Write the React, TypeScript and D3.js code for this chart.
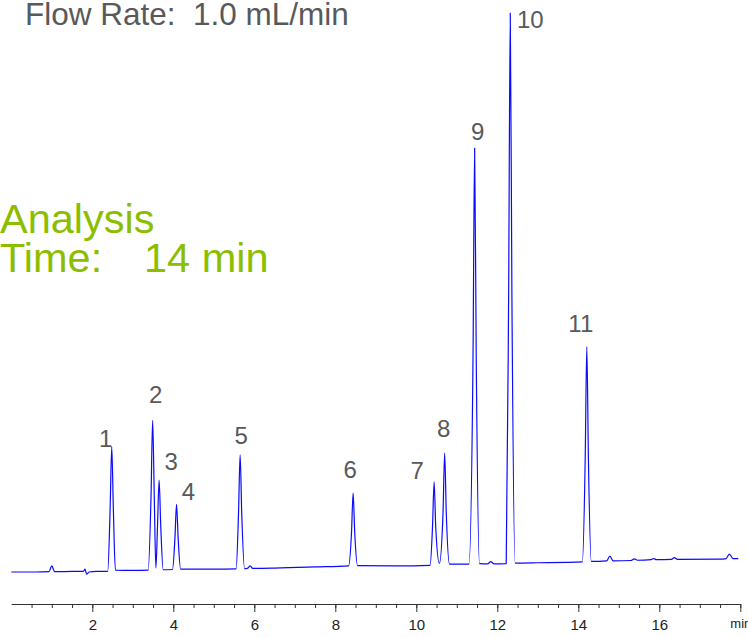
import { useEffect, useRef } from 'react'
import * as d3 from 'd3'

// chromatogram trace: [time (min), signal]
const trace: [number, number][] = [
  [0.0, 0.0], [0.6, 0.0], [0.93, 0.05], [1.0, 1.1], [1.07, 0.05], [1.5, 0.1],
  [1.78, 0.1], [1.82, 0.5], [1.86, -0.4], [1.92, 0.0], [2.1, 0.1], [2.38, 0.1],
  [2.44, 11.2], [2.48, 22.4], [2.52, 11.2], [2.57, 0.35], [3.0, 0.3], [3.38, 0.35],
  [3.45, 13.5], [3.49, 27.1], [3.53, 13.5], [3.57, 0.7],
  [3.61, 8.2], [3.65, 16.4], [3.69, 8.2], [3.75, 0.4], [3.98, 0.45],
  [4.04, 6.0], [4.08, 12.1], [4.12, 6.0], [4.18, 0.5], [5.0, 0.5], [5.55, 0.55],
  [5.61, 10.4], [5.65, 20.9], [5.69, 10.4], [5.76, 0.6], [5.84, 0.7], [5.9, 1.1],
  [5.96, 0.65], [6.5, 0.7], [7.5, 0.9], [8.33, 1.1],
  [8.4, 7.0], [8.44, 14.1], [8.48, 7.0], [8.55, 1.15], [9.5, 1.1], [10.34, 1.2],
  [10.4, 8.0], [10.44, 16.1], [10.48, 8.0], [10.57, 1.55],
  [10.66, 10.6], [10.7, 21.25], [10.74, 10.6], [10.82, 1.4], [11.3, 1.4],
  [11.4, 38.0], [11.44, 75.7], [11.48, 38.0], [11.56, 1.5], [11.76, 1.45],
  [11.84, 1.85], [11.92, 1.45], [12.22, 1.5],
  [12.28, 50.0], [12.32, 99.8], [12.36, 50.0], [12.44, 1.6], [13.0, 1.65], [14.1, 1.8],
  [14.17, 20.0], [14.21, 40.2], [14.25, 20.0], [14.32, 1.9], [14.7, 2.0],
  [14.78, 2.85], [14.86, 2.0], [15.3, 2.05], [15.38, 2.35], [15.46, 2.1],
  [15.8, 2.2], [15.86, 2.4], [15.93, 2.2], [16.3, 2.25], [16.37, 2.55], [16.45, 2.25],
  [17.5, 2.3], [17.65, 2.4], [17.73, 3.2], [17.82, 2.4], [17.95, 2.4]
]

const peakLabels = ['1', '2', '3', '4', '5', '6', '7', '8', '9', '10', '11']
const peakTimes = [2.48, 3.49, 3.65, 4.08, 5.65, 8.44, 10.44, 10.7, 11.44, 12.32, 14.21]
const peakHeights = [22.4, 27.1, 16.4, 12.1, 20.9, 14.1, 16.1, 21.25, 75.7, 99.8, 40.2]

// label offsets from each apex, in pixels (layout only)
const labelOffsets: [number, number][] = [
  [-6, 0], [3, -17], [12, -10], [12, -4], [1, -11], [-3, -15],
  [-17, -3], [-1, -16], [3, -8], [20, 15], [-6, -15]
]

const majorTicks = [2, 4, 6, 8, 10, 12, 14, 16, 18]
const minorTicks = d3.range(0.5, 18.01, 0.5)

const FONT = '"Liberation Sans", Arial, sans-serif'

export default function App() {
  const ref = useRef<SVGSVGElement | null>(null)

  useEffect(() => {
    if (!ref.current) return
    const svg = d3.select(ref.current)
    svg.selectAll('*').remove()

    const width = 748
    const height = 637
    const axisY = 604

    const x = d3.scaleLinear().domain([0, 18]).range([11.3, 740.3])
    const y = d3.scaleLinear().domain([0, 100]).range([572, 12])

    // header texts
    svg.append('text')
      .attr('x', 25)
      .attr('y', 25)
      .attr('fill', '#58595b')
      .style('font-family', FONT)
      .style('font-size', '31.5px')
      .style('white-space', 'pre')
      .text('Flow Rate:  1.0 mL/min')

    const green = '#8cbe00'
    svg.append('text')
      .attr('x', 0)
      .attr('y', 233)
      .attr('fill', green)
      .style('font-family', FONT)
      .style('font-size', '41.5px')
      .text('Analysis')
    svg.append('text')
      .attr('x', 0)
      .attr('y', 272)
      .attr('fill', green)
      .style('font-family', FONT)
      .style('font-size', '41.5px')
      .text('Time:')
    svg.append('text')
      .attr('x', 144)
      .attr('y', 272)
      .attr('fill', green)
      .style('font-family', FONT)
      .style('font-size', '41.5px')
      .text('14 min')

    // trace
    const line = d3.line<[number, number]>()
      .x(d => x(d[0]))
      .y(d => y(d[1]))
      .curve(d3.curveMonotoneX)

    svg.append('path')
      .datum(trace)
      .attr('fill', 'none')
      .attr('stroke', '#0a0aff')
      .attr('stroke-width', 1.2)
      .attr('stroke-linejoin', 'round')
      .attr('d', line)

    // peak labels
    svg.selectAll('.peak-label')
      .data(peakLabels)
      .enter()
      .append('text')
      .attr('class', 'peak-label')
      .attr('x', (d, i) => x(peakTimes[i]) + labelOffsets[i][0])
      .attr('y', (d, i) => y(peakHeights[i]) + labelOffsets[i][1])
      .attr('text-anchor', 'middle')
      .attr('fill', '#58595b')
      .style('font-family', FONT)
      .style('font-size', '24px')
      .text(d => d)

    // x axis: minor ticks
    svg.append('g')
      .attr('transform', `translate(0,${axisY})`)
      .call(d3.axisBottom(x).tickValues(minorTicks).tickSize(4).tickSizeOuter(0).tickFormat(() => ''))
      .call(g => g.selectAll('line, path').attr('stroke', '#333'))

    // x axis: major ticks + labels
    const major = svg.append('g')
      .attr('transform', `translate(0,${axisY})`)
      .call(
        d3.axisBottom(x)
          .tickValues(majorTicks)
          .tickSize(8)
          .tickSizeOuter(0)
          .tickPadding(7)
          .tickFormat(d => (d === 18 ? 'min' : String(d)))
      )
    major.selectAll('line, path').attr('stroke', '#333')
    major.selectAll('.tick text')
      .attr('fill', '#222')
      .style('font-family', FONT)
      .style('font-size', (d: any) => (d === 18 ? '13px' : '15px'))

    svg.attr('width', width).attr('height', height).attr('viewBox', `0 0 ${width} ${height}`)
  }, [])

  return (
    <svg
      ref={ref}
      style={{ position: 'absolute', left: 0, top: 0, background: '#fff', display: 'block' }}
    />
  )
}
